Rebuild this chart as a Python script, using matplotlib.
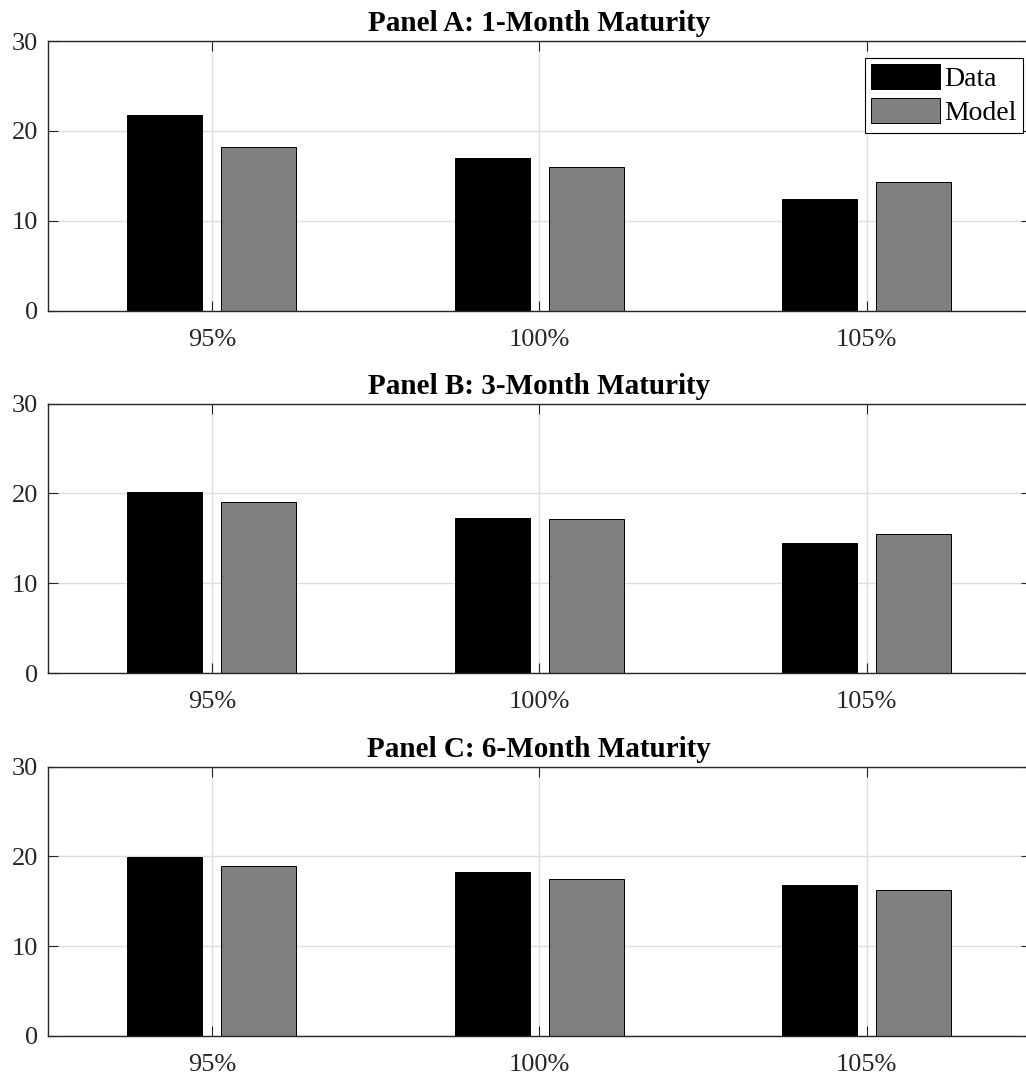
import matplotlib
matplotlib.use("Agg")
from matplotlib import pyplot as plt
import numpy as np

# Data
categories = ["95%", "100%", "105%"]
panel_titles = ["Panel A: 1-Month Maturity",
                "Panel B: 3-Month Maturity",
                "Panel C: 6-Month Maturity"]
data_a = [21.8, 17.0, 12.4]
model_a = [18.2, 16.0, 14.3]
data_b = [20.1, 17.3, 14.5]
model_b = [19.0, 17.1, 15.5]
data_c = [19.9, 18.3, 16.8]
model_c = [18.9, 17.5, 16.2]
series_labels = ["Data", "Model"]

panels = [(data_a, model_a), (data_b, model_b), (data_c, model_c)]

plt.rcParams["font.family"] = ["Liberation Serif", "DejaVu Serif"]
plt.rcParams["font.size"] = 19

W, H = 1026, 1076
fig = plt.figure(figsize=(W / 100, H / 100), dpi=100)

axis_col = "#262626"
grid_col = "#dedede"

# axes boxes in pixels -- right edge falls just outside the image, as in the reference
left_px, right_px = 48, 1030.5
tops = [41, 403.5, 766.5]
height_px = 269.5

x = np.arange(1, len(categories) + 1)
offset = 0.143
width = 0.2286

for i, (dat, mod) in enumerate(panels):
    top = tops[i]
    ax = fig.add_axes([left_px / W, 1 - (top + height_px) / H,
                       (right_px - left_px) / W, height_px / H])
    ax.set_axisbelow(True)
    ax.grid(True, color=grid_col, linewidth=1.0)
    b1 = ax.bar(x - offset, dat, width, color="black", edgecolor="black", linewidth=0.7)
    b2 = ax.bar(x + offset, mod, width, color="#808080", edgecolor="black", linewidth=0.7)
    ax.set_xlim(0.5, 3.5)
    ax.set_ylim(0, 30)
    ax.set_yticks([0, 10, 20, 30])
    ax.set_xticks(x)
    ax.set_xticklabels(categories)
    ax.tick_params(direction="in", length=7, width=0.8, color=axis_col,
                   labelcolor=axis_col, pad=7, top=True, right=True)
    ax.tick_params(axis="x", pad=13)
    for s in ax.spines.values():
        s.set_color(axis_col)
        s.set_linewidth(1.0)
    ax.set_title(panel_titles[i], fontsize=21, fontweight="bold", pad=7)
    if i == 0:
        leg = ax.legend([b1, b2], series_labels, loc="upper right",
                        bbox_to_anchor=(1023 / W, 1 - 58.3 / H),
                        bbox_transform=fig.transFigure,
                        fontsize=20, fancybox=False, framealpha=1,
                        edgecolor="black", borderpad=0.22, handlelength=2.5,
                        handleheight=1.0, handletextpad=0.15, labelspacing=0.22,
                        borderaxespad=0)
        leg.get_frame().set_linewidth(0.8)

fig.savefig("out.png", dpi=100)
